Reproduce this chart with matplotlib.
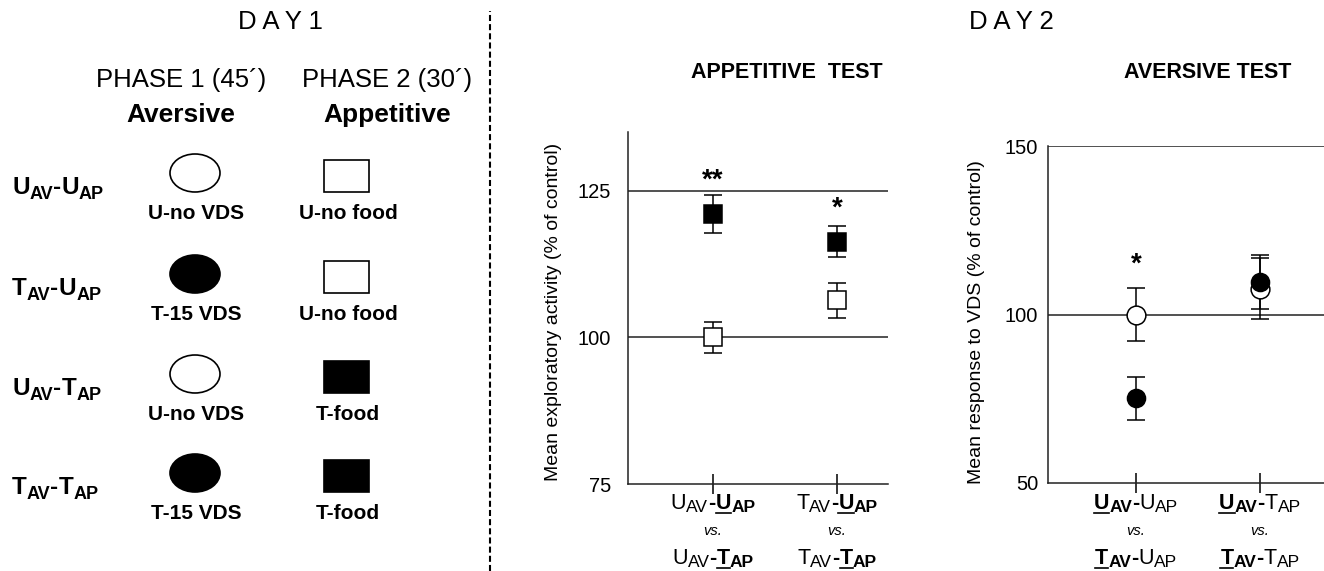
import matplotlib
matplotlib.use('Agg')
import matplotlib.pyplot as plt
from matplotlib.patches import Ellipse, Rectangle
from matplotlib.lines import Line2D
from matplotlib.transforms import IdentityTransform

plt.rcParams['font.family'] = ['Liberation Sans', 'DejaVu Sans']

W, H = 1324, 571

# Day 1 design: (aversive phase, appetitive phase) for each group
groups = [('U', 'U'), ('T', 'U'), ('U', 'T'), ('T', 'T')]
phase1_labels = ['U-no VDS', 'T-15 VDS', 'U-no VDS', 'T-15 VDS']
phase2_labels = ['U-no food', 'U-no food', 'T-food', 'T-food']

# Day 2 results
pair_pos = [1, 2]
# appetitive test (mean exploratory activity, % of control)
app_untrained = [100.0, 106.3]
app_untrained_err = [2.6, 3.0]
app_trained = [121.0, 116.3]
app_trained_err = [3.2, 2.6]
app_stars = ['**', '*']
app_star_y = [127.6, 122.9]
# aversive test (mean response to VDS, % of control)
av_untrained = [100.0, 107.7]
av_untrained_err = [7.8, 9.0]
av_trained = [75.1, 109.7]
av_trained_err = [6.4, 8.0]
av_stars = ['*']
av_star_y = [116.3]

# x labels: (top group, bottom group), and which phase is compared
app_pairs = [(('U', 'U'), ('U', 'T')), (('T', 'U'), ('T', 'T'))]
av_pairs = [(('U', 'U'), ('T', 'U')), (('U', 'T'), ('T', 'T'))]

fig = plt.figure(figsize=(W / 100, H / 100), dpi=100)
renderer = fig.canvas.get_renderer()


def rich(x, y, parts, ha='center'):
    """Draw a row of text pieces; x, y in pixels from the top-left, y is the baseline.
    parts: (text, size, bold, dy, underline)"""
    items = []
    cur = 0
    for s, size, bold, dy, ul in parts:
        t = fig.text(0, 0, s, fontsize=size, fontweight='bold' if bold else 'normal',
                     ha='left', va='baseline', transform=IdentityTransform())
        w = t.get_window_extent(renderer).width
        items.append((t, cur, w, dy, ul))
        cur += w
    x0 = x - cur / 2 if ha == 'center' else x
    for t, off, w, dy, ul in items:
        t.set_position((x0 + off, H - y - dy))
        if ul:
            fig.add_artist(Line2D([x0 + off, x0 + off + w], [H - y - 4, H - y - 4],
                                  transform=IdentityTransform(), color='k', lw=1.2))


def group_label(x, y, av, ap, tested, big=15.5, small=12.5):
    a_b = tested == 'AV'
    p_b = tested == 'AP'
    rich(x, y, [(av, big, a_b, 0, a_b), ('AV', small, a_b, 3, False),
                ('-', big, True, 0, False),
                (ap, big, p_b, 0, p_b), ('AP', small, p_b, 3, False)])


# ---- DAY 1 schematic ----
bg = fig.add_axes([0, 0, 1, 1], zorder=-1)
bg.set_xlim(0, W)
bg.set_ylim(H, 0)
bg.axis('off')

fig.text(280 / W, 1 - 22 / H, 'D A Y 1', fontsize=18.5, ha='center', va='center')
fig.text(1011 / W, 1 - 22 / H, 'D A Y 2', fontsize=18.5, ha='center', va='center')
fig.text(181 / W, 1 - 80 / H, 'PHASE 1 (45\u00b4)', fontsize=18.5, ha='center', va='center')
fig.text(387 / W, 1 - 80 / H, 'PHASE 2 (30\u00b4)', fontsize=18.5, ha='center', va='center')
fig.text(181 / W, 1 - 115 / H, 'Aversive', fontsize=19, fontweight='bold', ha='center', va='center')
fig.text(387 / W, 1 - 115 / H, 'Appetitive', fontsize=19, fontweight='bold', ha='center', va='center')

row_y = [173, 274, 374, 473]
for i, (av, ap) in enumerate(groups):
    yc = row_y[i]
    rich(12, yc + 21, [(av, 17.5, True, 0, False), ('AV', 13, True, 5, False),
                       ('-', 17.5, True, 0, False),
                       (ap, 17.5, True, 0, False), ('AP', 13, True, 5, False)], ha='left')
    bg.add_patch(Ellipse((195, yc), 50, 38, facecolor='k' if av == 'T' else 'white',
                         edgecolor='k', lw=1.2))
    bg.add_patch(Rectangle((346 - 22.5, yc + 3 - 16), 45, 32,
                           facecolor='k' if ap == 'T' else 'white', edgecolor='k', lw=1.2))
    rich(196, yc + 46, [(phase1_labels[i], 15, True, 0, False)])
    rich(348, yc + 46, [(phase2_labels[i], 15, True, 0, False)])

fig.add_artist(Line2D([490, 490], [0, H - 11], transform=IdentityTransform(), color='k',
                      lw=1.5, linestyle=(0, (2.9, 1.5))))


def style_axes(ax, pad):
    for s in ['top', 'right']:
        ax.spines[s].set_visible(False)
    for s in ['left', 'bottom']:
        ax.spines[s].set_linewidth(1.1)
        ax.spines[s].set_color('#222222')
    ax.tick_params(axis='y', length=0, labelsize=14.5, pad=pad)
    ax.tick_params(axis='x', direction='inout', length=15, width=1.1, labelbottom=False)
    ax.set_xticks(pair_pos)


# ---- Appetitive test ----
ax1 = fig.add_axes([628 / W, (H - 484) / H, 260 / W, 352 / H])
ax1.set_xlim(0.315, 2.41)
ax1.set_ylim(75, 135)
ax1.set_yticks([75, 100, 125])
style_axes(ax1, 12)
for yv in [100, 125]:
    ax1.axhline(yv, color='#222222', lw=1.1, zorder=1)
ax1.errorbar(pair_pos, app_untrained, yerr=app_untrained_err, fmt='none', ecolor='k',
             elinewidth=1.1, capsize=6.5, capthick=1.1, zorder=2)
ax1.errorbar(pair_pos, app_trained, yerr=app_trained_err, fmt='none', ecolor='k',
             elinewidth=1.1, capsize=6.5, capthick=1.1, zorder=2)
ax1.plot(pair_pos, app_untrained, 's', ms=13, mfc='white', mec='k', mew=1.1, zorder=3)
ax1.plot(pair_pos, app_trained, 's', ms=13, mfc='k', mec='k', mew=1.1, zorder=3)
for x, s, yv in zip(pair_pos, app_stars, app_star_y):
    ax1.annotate(s, (x, yv), xytext=(0, -9), textcoords='offset points',
                 ha='center', va='baseline', fontsize=20, fontweight='bold')
ax1.set_ylabel('Mean exploratory activity (% of control)', fontsize=14)
ax1.yaxis.set_label_coords(-0.254, 0.49)
fig.text(787 / W, 1 - 73 / H, 'APPETITIVE  TEST', fontsize=15.5, fontweight='bold',
         ha='center', va='center')

# ---- Aversive test ----
ax2 = fig.add_axes([1048 / W, (H - 483) / H, 276 / W, 337 / H])
ax2.set_xlim(0.29, 2.516)
ax2.set_ylim(50, 150)
ax2.set_yticks([50, 100, 150])
style_axes(ax2, 7)
for yv in [100, 150]:
    ax2.axhline(yv, color='#222222', lw=1.1, zorder=1)
ax2.errorbar(pair_pos, av_untrained, yerr=av_untrained_err, fmt='none', ecolor='k',
             elinewidth=1.1, capsize=6.5, capthick=1.1, zorder=2)
ax2.errorbar(pair_pos, av_trained, yerr=av_trained_err, fmt='none', ecolor='k',
             elinewidth=1.1, capsize=6.5, capthick=1.1, zorder=2)
ax2.plot(pair_pos, av_untrained, 'o', ms=13.5, mfc='white', mec='k', mew=1.1, zorder=3)
ax2.plot(pair_pos, av_trained, 'o', ms=13, mfc='k', mec='k', mew=1.1, zorder=4)
for x, s, yv in zip(pair_pos, av_stars, av_star_y):
    ax2.annotate(s, (x, yv), xytext=(0, -9), textcoords='offset points',
                 ha='center', va='baseline', fontsize=20, fontweight='bold')
ax2.set_ylabel('Mean response to VDS (% of control)', fontsize=14)
ax2.yaxis.set_label_coords(-0.228, 0.478)
fig.text(1208 / W, 1 - 73 / H, 'AVERSIVE TEST', fontsize=15.5, fontweight='bold',
         ha='center', va='center')

# ---- custom x labels ----
for ax, pairs, tested in [(ax1, app_pairs, 'AP'), (ax2, av_pairs, 'AV')]:
    for x, (top, bottom) in zip(pair_pos, pairs):
        xp = ax.transData.transform((x, 0))[0]
        group_label(xp, 509, top[0], top[1], tested)
        fig.text(xp, H - 535, 'vs.', fontsize=10.5, fontstyle='italic', ha='center',
                 va='baseline', transform=IdentityTransform())
        group_label(xp, 564, bottom[0], bottom[1], tested)

fig.savefig('out.png', dpi=100)
